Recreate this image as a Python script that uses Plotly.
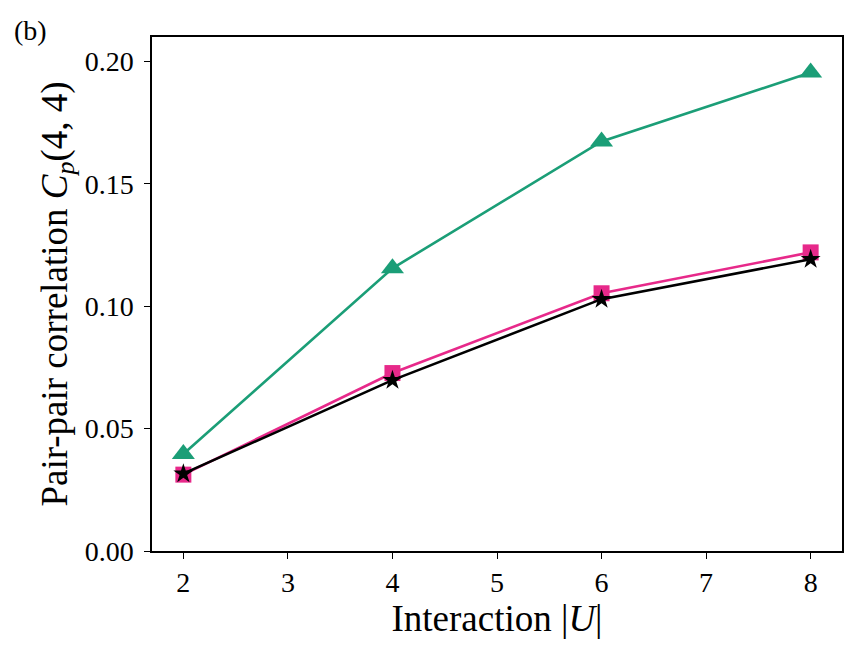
import plotly.graph_objects as go

interaction = [2, 4, 6, 8]
green_tri = [0.0396, 0.1155, 0.1673, 0.1955]
pink_sq = [0.0312, 0.0727, 0.1053, 0.1220]
black_star = [0.0316, 0.0698, 0.1029, 0.1192]

x_ticks = [2, 3, 4, 5, 6, 7, 8]
y_ticks = [0.0, 0.05, 0.10, 0.15, 0.20]
y_ticktext = ["0.00", "0.05", "0.10", "0.15", "0.20"]

FONT = "Liberation Serif"

fig = go.Figure()
series = [
    (green_tri, "#1b9e77", "triangle-up", 20),
    (pink_sq, "#e7298a", "square", 16),
    (black_star, "black", "star", 15),
]
for vals, color, symbol, size in series:
    fig.add_trace(
        go.Scatter(
            x=interaction,
            y=vals,
            mode="lines+markers",
            line=dict(color=color, width=2.6),
            marker=dict(symbol=symbol, size=size, color=color, line=dict(width=0)),
            showlegend=False,
        )
    )

axis_common = dict(
    showline=True,
    linecolor="black",
    linewidth=1.5,
    mirror=True,
    ticks="outside",
    ticklen=6,
    tickwidth=1.2,
    tickcolor="black",
    showgrid=False,
    zeroline=False,
    automargin=False,
    tickfont=dict(family=FONT, size=28, color="black"),
)

fig.update_xaxes(
    range=[1.7, 8.3],
    tickvals=x_ticks,
    ticklabelstandoff=0,
    title=dict(text="Interaction |<i>U</i>|", font=dict(family=FONT, size=37, color="black"), standoff=2),
    **axis_common,
)
fig.update_yaxes(
    range=[0, 0.21],
    tickvals=y_ticks,
    ticktext=y_ticktext,
    ticklabelstandoff=5,
    title=dict(
        text="Pair-pair correlation <i>C</i><sub><i>p</i></sub>(4, 4)",
        font=dict(family=FONT, size=37, color="black"),
        standoff=6,
    ),
    **axis_common,
)

fig.add_annotation(
    text="(b)",
    xref="paper", yref="paper",
    x=(12 - 152) / 690, y=1 + (37 - 30) / 514,
    xanchor="left", yanchor="middle",
    showarrow=False,
    font=dict(family=FONT, size=28, color="black"),
)

fig.update_layout(
    width=857,
    height=653,
    margin=dict(l=152, r=15, t=37, b=102),
    plot_bgcolor="white",
    paper_bgcolor="white",
)

fig.write_html(
    "out.html",
    config={"displayModeBar": False},
    post_script="document.body.style.margin='0';",
)
